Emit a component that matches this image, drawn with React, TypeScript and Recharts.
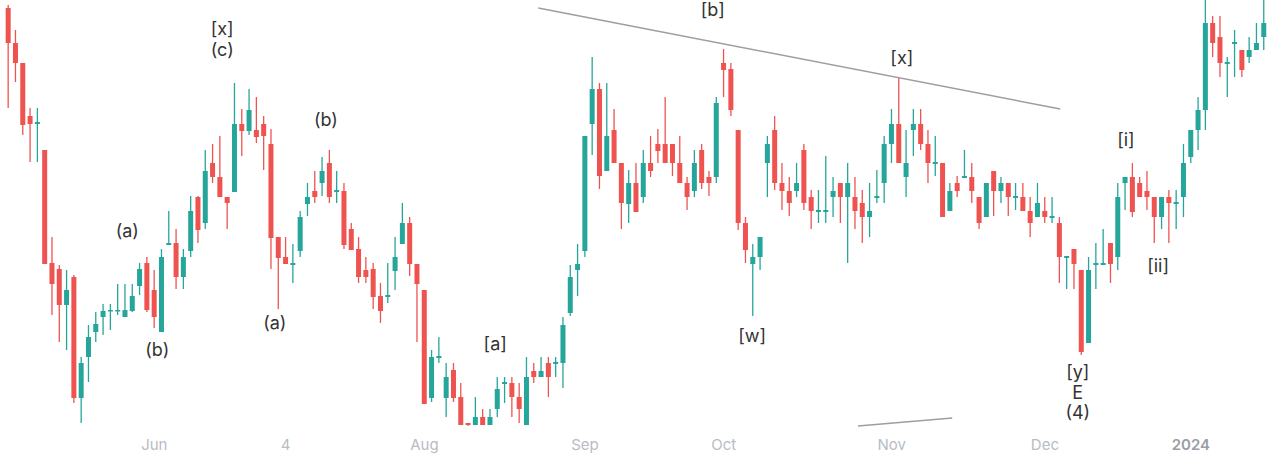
import React from 'react';
import { ComposedChart, Bar, XAxis, YAxis, ReferenceLine, ReferenceDot } from 'recharts';

// daily candles, Jun 2023 – Jan 2024 (price units)
const opens = [
  43.2, 39.7, 37.7, 32.4, 31.6, 29.0, 17.7, 17.1, 13.5, 16.3,
  4.2, 8.3, 10.8, 12.3, 12.9, 12.9, 12.3, 12.9, 15.4, 17.7,
  15.0, 10.8, 19.5, 19.7, 16.3, 18.9, 24.3, 21.7, 27.7, 26.3,
  24.3, 24.8, 31.6, 30.9, 31.0, 31.6, 29.6, 20.3, 18.3, 17.5,
  18.9, 23.6, 24.9, 25.7, 27.7, 24.8, 24.9, 21.1, 19.1, 17.0,
  17.1, 14.4, 14.3, 16.9, 19.6, 21.7, 17.6, 15.0, 4.2, 8.2,
  4.2, 7.0, 4.3, 1.7, 1.5, 2.3, 1.5, 3.1, 5.6, 5.7,
  4.3, 1.5, 6.9, 6.3, 7.7, 7.6, 7.7, 12.7, 17.0, 18.9,
  31.6, 35.1, 26.9, 31.0, 27.7, 23.6, 25.7, 24.3, 27.7, 29.6,
  29.6, 29.6, 27.7, 25.7, 24.9, 29.0, 26.3, 26.3, 37.7, 37.1,
  31.0, 21.7, 17.6, 18.3, 27.7, 31.0, 25.7, 24.9, 24.9, 29.0,
  24.3, 22.8, 22.8, 24.3, 25.7, 24.3, 24.3, 23.7, 22.3, 24.2,
  25.7, 29.6, 31.6, 26.3, 31.0, 31.6, 29.6, 27.6, 27.7, 22.9,
  25.7, 26.2, 26.3, 24.3, 22.3, 26.9, 24.9, 25.7, 24.2, 24.3,
  22.9, 22.3, 22.9, 22.2, 21.7, 18.2, 19.1, 17.0, 9.7, 17.5,
  17.5, 19.7, 18.3, 25.7, 26.3, 25.7, 24.9, 24.3, 22.3, 24.3,
  23.6, 24.3, 28.3, 31.0, 33.0, 41.7, 40.3, 37.6, 39.6, 39.0,
  38.3, 39.0, 40.3,
];
const highs = [
  43.5, 41.0, 37.7, 33.2, 33.2, 29.0, 20.3, 17.5, 17.0, 16.5,
  8.3, 11.5, 12.8, 13.6, 13.6, 15.6, 15.6, 15.6, 17.7, 18.3,
  17.0, 19.1, 22.9, 21.1, 19.1, 24.4, 24.4, 29.0, 29.6, 30.4,
  24.3, 35.7, 33.1, 35.1, 34.3, 32.4, 31.1, 20.3, 20.3, 19.6,
  22.9, 25.7, 26.9, 28.3, 29.0, 26.9, 25.7, 21.7, 20.3, 18.3,
  17.7, 15.7, 17.7, 20.3, 23.7, 22.3, 17.6, 15.0, 9.0, 10.3,
  7.7, 7.7, 5.7, 1.7, 4.3, 3.1, 3.1, 6.3, 6.3, 6.3,
  5.7, 8.3, 7.7, 8.3, 8.3, 8.3, 12.3, 17.5, 19.6, 30.4,
  38.3, 35.7, 35.7, 33.1, 27.7, 27.0, 27.7, 29.0, 30.4, 31.1,
  34.3, 29.6, 30.4, 26.3, 29.0, 29.6, 26.9, 34.3, 39.1, 37.7,
  31.0, 22.3, 19.6, 20.3, 30.4, 32.4, 27.7, 26.3, 27.7, 29.6,
  25.0, 25.0, 28.4, 26.3, 25.7, 27.7, 26.3, 25.0, 25.7, 27.0,
  30.4, 33.1, 36.3, 31.0, 33.1, 33.1, 31.0, 30.4, 27.7, 25.7,
  26.4, 29.0, 27.7, 24.3, 25.7, 26.9, 26.3, 25.7, 25.7, 25.7,
  24.3, 25.7, 24.3, 24.3, 22.3, 18.4, 19.1, 17.0, 18.3, 19.7,
  21.1, 19.7, 25.7, 26.3, 27.7, 26.3, 26.9, 24.3, 24.3, 25.0,
  25.0, 29.6, 31.0, 34.3, 44.0, 42.4, 42.4, 38.3, 41.0, 39.0,
  40.3, 41.7, 44.0,
];
const lows = [
  33.2, 35.8, 30.5, 27.8, 27.8, 17.6, 12.5, 9.8, 9.0, 3.7,
  1.7, 5.8, 9.8, 10.5, 11.0, 12.5, 12.3, 12.8, 14.5, 12.8,
  11.2, 10.8, 19.5, 15.1, 15.1, 18.3, 19.7, 21.1, 25.7, 24.3,
  21.1, 24.8, 28.4, 30.5, 29.7, 27.0, 17.1, 13.1, 17.6, 15.7,
  18.3, 22.4, 23.7, 24.4, 23.7, 23.7, 19.1, 19.0, 15.7, 15.7,
  13.1, 11.7, 13.7, 15.0, 19.6, 16.4, 9.8, 3.6, 3.8, 7.7,
  2.3, 3.8, 1.5, 1.4, 1.5, 1.5, 1.5, 2.3, 3.7, 2.3,
  1.7, 1.5, 5.7, 6.3, 4.3, 6.3, 5.2, 12.4, 14.4, 18.3,
  28.5, 25.1, 26.9, 27.7, 21.1, 21.7, 22.8, 23.7, 26.3, 27.7,
  27.7, 26.4, 25.7, 23.0, 24.3, 25.1, 24.4, 25.7, 34.3, 32.4,
  21.0, 17.7, 12.4, 17.0, 24.3, 25.0, 23.0, 22.4, 24.3, 23.0,
  21.1, 21.7, 21.7, 22.3, 21.7, 17.7, 21.1, 19.7, 20.3, 23.7,
  23.7, 27.7, 27.7, 24.3, 28.4, 29.0, 25.7, 26.4, 22.3, 22.9,
  24.3, 26.2, 23.7, 21.1, 22.3, 22.4, 23.7, 22.4, 23.0, 22.9,
  20.3, 22.3, 21.7, 21.7, 15.7, 15.1, 15.1, 8.5, 9.7, 15.1,
  17.5, 15.7, 17.0, 23.0, 22.3, 24.3, 23.0, 19.7, 21.1, 19.7,
  21.1, 22.3, 27.7, 29.0, 31.0, 38.3, 36.3, 34.3, 36.3, 36.3,
  37.7, 39.0, 39.0,
];
const closes = [
  39.7, 37.7, 31.5, 31.6, 31.8, 17.6, 15.6, 13.5, 15.0, 4.2,
  7.7, 10.3, 11.6, 12.9, 13.0, 13.0, 13.0, 14.4, 17.1, 13.0,
  12.3, 18.3, 19.7, 16.3, 18.3, 22.9, 21.0, 26.9, 26.3, 24.3,
  23.7, 31.6, 30.9, 33.0, 30.3, 30.4, 20.2, 18.2, 17.6, 17.7,
  22.3, 24.3, 24.3, 26.9, 24.3, 25.0, 19.5, 19.0, 16.3, 16.3,
  14.3, 12.9, 14.5, 18.3, 21.7, 17.6, 15.6, 3.6, 8.3, 8.4,
  6.3, 4.2, 1.5, 1.5, 2.3, 1.5, 2.3, 5.1, 5.8, 4.3,
  3.1, 6.3, 6.3, 6.9, 6.3, 7.8, 11.5, 16.3, 17.6, 30.4,
  35.1, 26.4, 30.4, 27.7, 23.7, 25.7, 22.8, 27.7, 26.9, 28.9,
  27.7, 27.7, 25.7, 24.3, 27.7, 25.7, 25.7, 33.7, 37.0, 33.0,
  21.7, 19.0, 18.3, 20.3, 29.6, 25.7, 24.9, 23.7, 25.7, 23.7,
  22.9, 23.0, 23.0, 24.9, 24.3, 25.7, 22.9, 22.3, 22.9, 24.4,
  29.6, 31.6, 27.7, 27.7, 31.6, 29.6, 27.7, 27.8, 22.3, 24.9,
  24.9, 26.4, 24.9, 21.7, 25.7, 24.9, 25.7, 24.3, 24.4, 22.9,
  21.7, 23.7, 22.3, 22.4, 18.3, 18.4, 17.6, 8.8, 17.0, 17.7,
  17.7, 17.6, 24.3, 26.3, 22.8, 24.3, 24.3, 22.3, 24.3, 23.7,
  23.8, 27.7, 31.0, 33.0, 41.7, 39.7, 37.7, 37.8, 39.8, 37.0,
  39.0, 39.7, 41.7,
];

// month ticks (candle index where the label sits)
const tickIndex = [20, 38, 57, 79, 98, 121, 142, 162];
const tickLabels = ['Jun', '4', 'Aug', 'Sep', 'Oct', 'Nov', 'Dec', '2024'];

// wave count annotations
const waveLabels = [
  { i: 16.3, p: 21.0, text: '(a)' },
  { i: 20.4, p: 9.1, text: '(b)' },
  { i: 29.3, p: 41.2, text: '[x]' },
  { i: 29.3, p: 39.1, text: '(c)' },
  { i: 43.5, p: 32.1, text: '(b)' },
  { i: 36.5, p: 11.8, text: '(a)' },
  { i: 66.7, p: 9.7, text: '[a]' },
  { i: 96.5, p: 43.1, text: '[b]' },
  { i: 101.9, p: 10.5, text: '[w]' },
  { i: 122.4, p: 38.3, text: '[x]' },
  { i: 146.5, p: 6.9, text: '[y]' },
  { i: 146.5, p: 4.8, text: 'E' },
  { i: 146.5, p: 2.8, text: '(4)' },
  { i: 153.1, p: 30.1, text: '[i]' },
  { i: 157.5, p: 17.5, text: '[ii]' },
];

// trendlines: [start index, start price, end index, end price]
const upperLine = [72.6, 43.2, 144.1, 33.1];
const lowerLine = [116.4, 1.4, 129.3, 2.2];

const UP = '#26a69a';
const DOWN = '#ef5350';
const FONT = 'Inter, Roboto, "Noto Sans", sans-serif';

const candles = opens.map((o, i) => ({
  i,
  open: o,
  high: highs[i],
  low: lows[i],
  close: closes[i],
}));

const Candle = (props: any) => {
  const { x, y, width, height, payload } = props;
  const { open, close, high, low } = payload;
  const color = close >= open ? UP : DOWN;
  const k = height / (high - low || 1);
  const top = y + (high - Math.max(open, close)) * k;
  const bot = y + (high - Math.min(open, close)) * k;
  const cx = x + width / 2;
  return (
    <g>
      <line x1={cx} x2={cx} y1={y} y2={y + height} stroke={color} strokeWidth={1.3} />
      <rect x={x} y={top} width={width} height={Math.max(bot - top, 1.5)} fill={color} />
    </g>
  );
};

const MonthTick = (props: any) => {
  const { x, y, payload } = props;
  const label = tickLabels[tickIndex.indexOf(payload.value)] ?? '';
  const bold = label === '2024';
  return (
    <text
      x={x} y={y + 12} textAnchor="middle" fontFamily={FONT} fontSize={15}
      fontWeight={bold ? 600 : 400} fill={bold ? '#9a9ea6' : '#b8bcc4'}
    >
      {label}
    </text>
  );
};

const WaveText = (text: string) => (props: any) => (
  <text
    x={props.cx} y={props.cy} textAnchor="middle" dominantBaseline="central"
    fontFamily={FONT} fontSize={18} fill="#333"
  >
    {text}
  </text>
);

export default function App() {
  return (
    <div style={{ position: 'absolute', left: 0, top: 0, width: 1268, height: 460, background: '#fff' }}>
      <ComposedChart width={1268} height={460} data={candles} margin={{ top: 0, right: 0, bottom: 0, left: 0 }}>
        <XAxis
          type="number" dataKey="i" domain={[-1.14, 172.56]} allowDataOverflow
          ticks={tickIndex} tick={<MonthTick />} axisLine={false} tickLine={false} height={30}
        />
        <YAxis type="number" domain={[1, 44]} allowDataOverflow hide />
        <ReferenceLine
          segment={[{ x: upperLine[0], y: upperLine[1] }, { x: upperLine[2], y: upperLine[3] }]}
          stroke="#9e9e9e" strokeWidth={1.5}
        />
        <ReferenceLine
          segment={[{ x: lowerLine[0], y: lowerLine[1] }, { x: lowerLine[2], y: lowerLine[3] }]}
          stroke="#9e9e9e" strokeWidth={1.5}
        />
        <Bar
          dataKey={(d: any) => [d.low, d.high]} barSize={5}
          shape={<Candle />} isAnimationActive={false}
        />
        {waveLabels.map((w, k) => (
          <ReferenceDot key={k} x={w.i} y={w.p} r={0} shape={WaveText(w.text)} />
        ))}
      </ComposedChart>
    </div>
  );
}
